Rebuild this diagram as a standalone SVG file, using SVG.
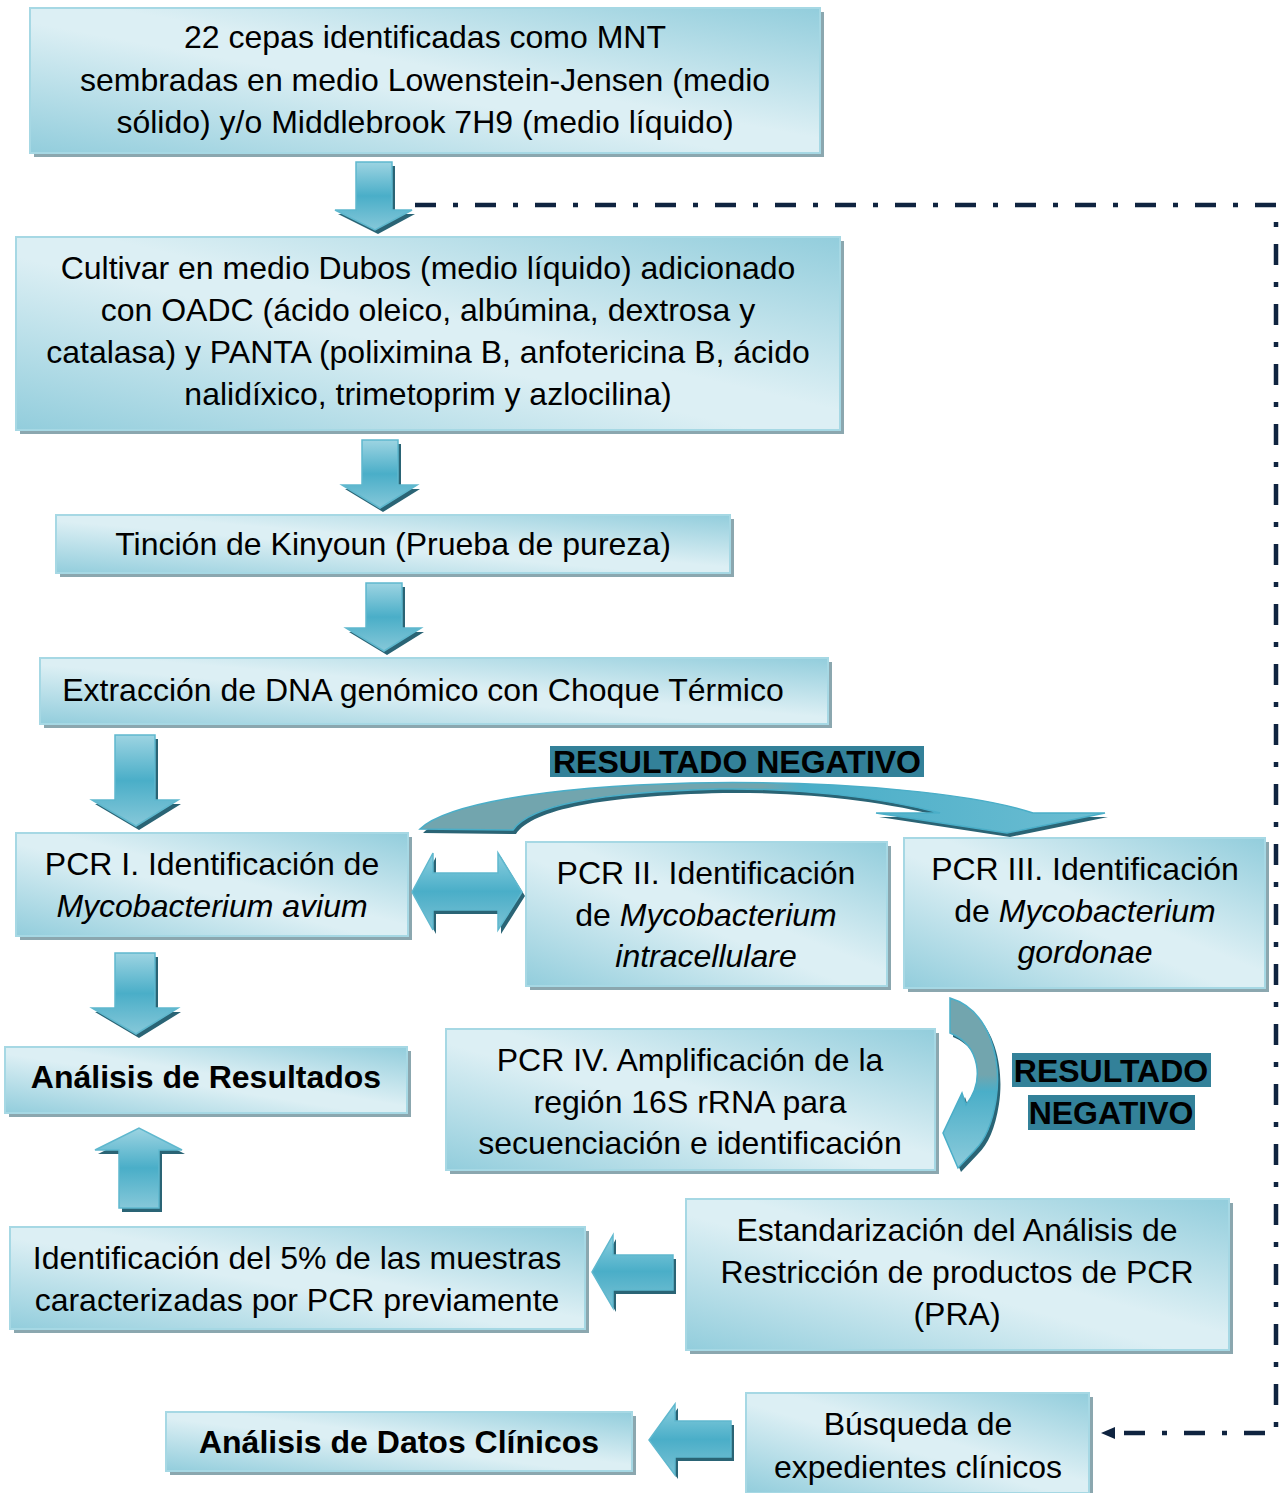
<svg xmlns="http://www.w3.org/2000/svg" width="1287" height="1493" viewBox="0 0 1287 1493">
<defs>
<linearGradient id="bg" x1="0" y1="1" x2="1" y2="0">
<stop offset="0" stop-color="#92cddc"/>
<stop offset="0.45" stop-color="#dceff4"/>
<stop offset="0.55" stop-color="#dceff4"/>
<stop offset="1" stop-color="#92cddc"/>
</linearGradient>
<linearGradient id="av" x1="0" y1="0" x2="0" y2="1">
<stop offset="0" stop-color="#9dd4e2"/>
<stop offset="0.5" stop-color="#4aaec8"/>
<stop offset="1" stop-color="#86c8d9"/>
</linearGradient>
<linearGradient id="ah" x1="0" y1="0" x2="0" y2="1">
<stop offset="0" stop-color="#8ccfdf"/>
<stop offset="0.5" stop-color="#4aaec8"/>
<stop offset="1" stop-color="#7cc2d4"/>
</linearGradient>
<linearGradient id="ct" x1="0" y1="0" x2="1" y2="0">
<stop offset="0" stop-color="#72a5ae"/>
<stop offset="0.5" stop-color="#72a5ae"/>
<stop offset="0.56" stop-color="#4aaec8"/>
<stop offset="1" stop-color="#6cbdd2"/>
</linearGradient>
<linearGradient id="cr" x1="0" y1="0" x2="0" y2="1">
<stop offset="0" stop-color="#72a5ae"/>
<stop offset="0.45" stop-color="#72a5ae"/>
<stop offset="0.55" stop-color="#4aaec8"/>
<stop offset="1" stop-color="#8ccbdb"/>
</linearGradient>
</defs>
<style>
.box{fill:url(#bg);stroke:#a6d8e4;stroke-width:2}
.sh{fill:#8ba7af}
.t{font-family:"Liberation Sans",Arial,sans-serif;font-size:32px;fill:#000;text-anchor:middle}
.b{font-weight:bold}
.i{font-style:italic}
.arv{fill:url(#av);stroke:#5fb8ce;stroke-width:1.5}
.arh{fill:url(#ah);stroke:#5fb8ce;stroke-width:1.5}
.ash{fill:#2a6475}
.dd{fill:none;stroke:#0f2440;stroke-width:4.5;stroke-dasharray:21 17 5 17}
.hl{fill:#338199}
</style>

<g id="n1"><rect class="sh" x="34" y="12" width="790" height="145"/><rect class="box" x="30" y="8" width="790" height="145"/>
<text class="t" x="425" y="48">22 cepas identificadas como MNT</text>
<text class="t" x="425" y="91">sembradas en medio Lowenstein-Jensen (medio</text>
<text class="t" x="425" y="133">sólido) y/o Middlebrook 7H9 (medio líquido)</text></g>

<g id="n2"><rect class="sh" x="20" y="241" width="824" height="193"/><rect class="box" x="16" y="237" width="824" height="193"/>
<text class="t" x="428" y="279">Cultivar en medio Dubos (medio líquido) adicionado</text>
<text class="t" x="428" y="321">con OADC (ácido oleico, albúmina, dextrosa y</text>
<text class="t" x="428" y="363">catalasa) y PANTA (poliximina B, anfotericina B, ácido</text>
<text class="t" x="428" y="405">nalidíxico, trimetoprim y azlocilina)</text></g>

<g id="n3"><rect class="sh" x="60" y="519" width="674" height="58"/><rect class="box" x="56" y="515" width="674" height="58"/>
<text class="t" x="393" y="555">Tinción de Kinyoun (Prueba de pureza)</text></g>

<g id="n4"><rect class="sh" x="44" y="662" width="788" height="66"/><rect class="box" x="40" y="658" width="788" height="66"/>
<text class="t" x="423" y="701">Extracción de DNA genómico con Choque Térmico</text></g>

<g id="n5"><rect class="sh" x="20" y="837" width="392" height="103"/><rect class="box" x="16" y="833" width="392" height="103"/>
<text class="t" x="212" y="875">PCR I. Identificación de</text>
<text class="t i" x="212" y="917">Mycobacterium avium</text></g>

<g id="n6"><rect class="sh" x="530" y="846" width="361" height="144"/><rect class="box" x="526" y="842" width="361" height="144"/>
<text class="t" x="706" y="884">PCR II. Identificación</text>
<text class="t" x="706" y="926">de <tspan class="i">Mycobacterium</tspan></text>
<text class="t i" x="706" y="967">intracellulare</text></g>

<g id="n7"><rect class="sh" x="908" y="842" width="361" height="150"/><rect class="box" x="904" y="838" width="361" height="150"/>
<text class="t" x="1085" y="880">PCR III. Identificación</text>
<text class="t" x="1085" y="922">de <tspan class="i">Mycobacterium</tspan></text>
<text class="t i" x="1085" y="963">gordonae</text></g>

<g id="n8"><rect class="sh" x="9" y="1051" width="402" height="66"/><rect class="box" x="5" y="1047" width="402" height="66"/>
<text class="t b" x="206" y="1088">Análisis de Resultados</text></g>

<g id="n9"><rect class="sh" x="450" y="1033" width="489" height="141"/><rect class="box" x="446" y="1029" width="489" height="141"/>
<text class="t" x="690" y="1071">PCR IV. Amplificación de la</text>
<text class="t" x="690" y="1113">región 16S rRNA para</text>
<text class="t" x="690" y="1154">secuenciación e identificación</text></g>

<g id="n10"><rect class="sh" x="14" y="1231" width="575" height="102"/><rect class="box" x="10" y="1227" width="575" height="102"/>
<text class="t" x="297" y="1269">Identificación del 5% de las muestras</text>
<text class="t" x="297" y="1311">caracterizadas por PCR previamente</text></g>

<g id="n11"><rect class="sh" x="690" y="1203" width="543" height="151"/><rect class="box" x="686" y="1199" width="543" height="151"/>
<text class="t" x="957" y="1241">Estandarización del Análisis de</text>
<text class="t" x="957" y="1283">Restricción de productos de PCR</text>
<text class="t" x="957" y="1325">(PRA)</text></g>

<g id="n12"><rect class="sh" x="170" y="1416" width="466" height="59"/><rect class="box" x="166" y="1412" width="466" height="59"/>
<text class="t b" x="399" y="1453">Análisis de Datos Clínicos</text></g>

<g id="n13"><rect class="sh" x="750" y="1397" width="343" height="100"/><rect class="box" x="746" y="1393" width="343" height="100"/>
<text class="t" x="918" y="1435">Búsqueda de</text>
<text class="t" x="918" y="1478">expedientes clínicos</text></g>

<g id="connectors">
<path class="dd" d="M 415 205 H 1276 V 1433 H 1114"/>
<polygon points="1101,1433 1115,1427 1115,1439" fill="#0f2440"/>

<path class="ash" transform="translate(3,4)" d="M356 162 H392 V210 H412 L375 230 L335 210 H356 Z"/>
<path class="arv" d="M356 162 H392 V210 H412 L375 230 L335 210 H356 Z"/>
<path class="ash" transform="translate(3,4)" d="M362 440 H398 V485 H417 L380 508 L342 485 H362 Z"/>
<path class="arv" d="M362 440 H398 V485 H417 L380 508 L342 485 H362 Z"/>
<path class="ash" transform="translate(3,4)" d="M366 583 H402 V628 H421 L384 651 L346 628 H366 Z"/>
<path class="arv" d="M366 583 H402 V628 H421 L384 651 L346 628 H366 Z"/>
<path class="ash" transform="translate(3,4)" d="M115 735 H155 V800 H178 L136 826 L92 800 H115 Z"/>
<path class="arv" d="M115 735 H155 V800 H178 L136 826 L92 800 H115 Z"/>
<path class="ash" transform="translate(3,4)" d="M115 953 H155 V1008 H178 L136 1034 L92 1008 H115 Z"/>
<path class="arv" d="M115 953 H155 V1008 H178 L136 1034 L92 1008 H115 Z"/>
<path class="ash" transform="translate(3,4)" d="M119 1208 H159 V1150 H182 L139 1128 L95 1150 H119 Z"/>
<path class="arv" d="M119 1208 H159 V1150 H182 L139 1128 L95 1150 H119 Z"/>
<path class="ash" transform="translate(3,4)" d="M412 892 L433 853 V873 H498 V853 L522 892 L498 930 V910 H433 V930 Z"/>
<path class="arh" d="M412 892 L433 853 V873 H498 V853 L522 892 L498 930 V910 H433 V930 Z"/>
<path class="ash" transform="translate(3,4)" d="M673 1255 V1290 H613 V1308 L592 1272 L613 1235 V1255 Z"/>
<path class="arh" d="M673 1255 V1290 H613 V1308 L592 1272 L613 1235 V1255 Z"/>
<path class="ash" transform="translate(3,4)" d="M731 1421 V1457 H675 V1475 L649 1440 L675 1404 V1421 Z"/>
<path class="arh" d="M731 1421 V1457 H675 V1475 L649 1440 L675 1404 V1421 Z"/>

<path class="ash" transform="translate(3,4)" d="M 420 829 C 445 805, 540 787, 690 783 C 850 780, 980 795, 1033 813 L 1105 813 L 1007 833 L 876 813 L 940 813 C 880 797, 800 788, 720 789 C 600 792, 530 805, 513 830 Z"/>
<path d="M 420 829 C 445 805, 540 787, 690 783 C 850 780, 980 795, 1033 813 L 1105 813 L 1007 833 L 876 813 L 940 813 C 880 797, 800 788, 720 789 C 600 792, 530 805, 513 830 Z" fill="url(#ct)" stroke="#4aaec8" stroke-width="1.5"/>

<path class="ash" transform="translate(3,4)" d="M 950 998 C 990 1010, 1002 1060, 996 1100 C 992 1125, 985 1140, 975 1150 L 958 1168 L 943 1133 L 962 1093 L 966 1105 C 985 1080, 980 1045, 950 1033 Z"/>
<path d="M 950 998 C 990 1010, 1002 1060, 996 1100 C 992 1125, 985 1140, 975 1150 L 958 1168 L 943 1133 L 962 1093 L 966 1105 C 985 1080, 980 1045, 950 1033 Z" fill="url(#cr)" stroke="#4aaec8" stroke-width="1.5"/>
</g>

<g id="labels">
<rect class="hl" x="550" y="746" width="374" height="31"/>
<text class="t b" x="737" y="773">RESULTADO NEGATIVO</text>
<rect class="hl" x="1012" y="1053" width="199" height="34"/>
<text class="t b" x="1111" y="1082">RESULTADO</text>
<rect class="hl" x="1028" y="1095" width="167" height="35"/>
<text class="t b" x="1111" y="1124">NEGATIVO</text>
</g>
</svg>
